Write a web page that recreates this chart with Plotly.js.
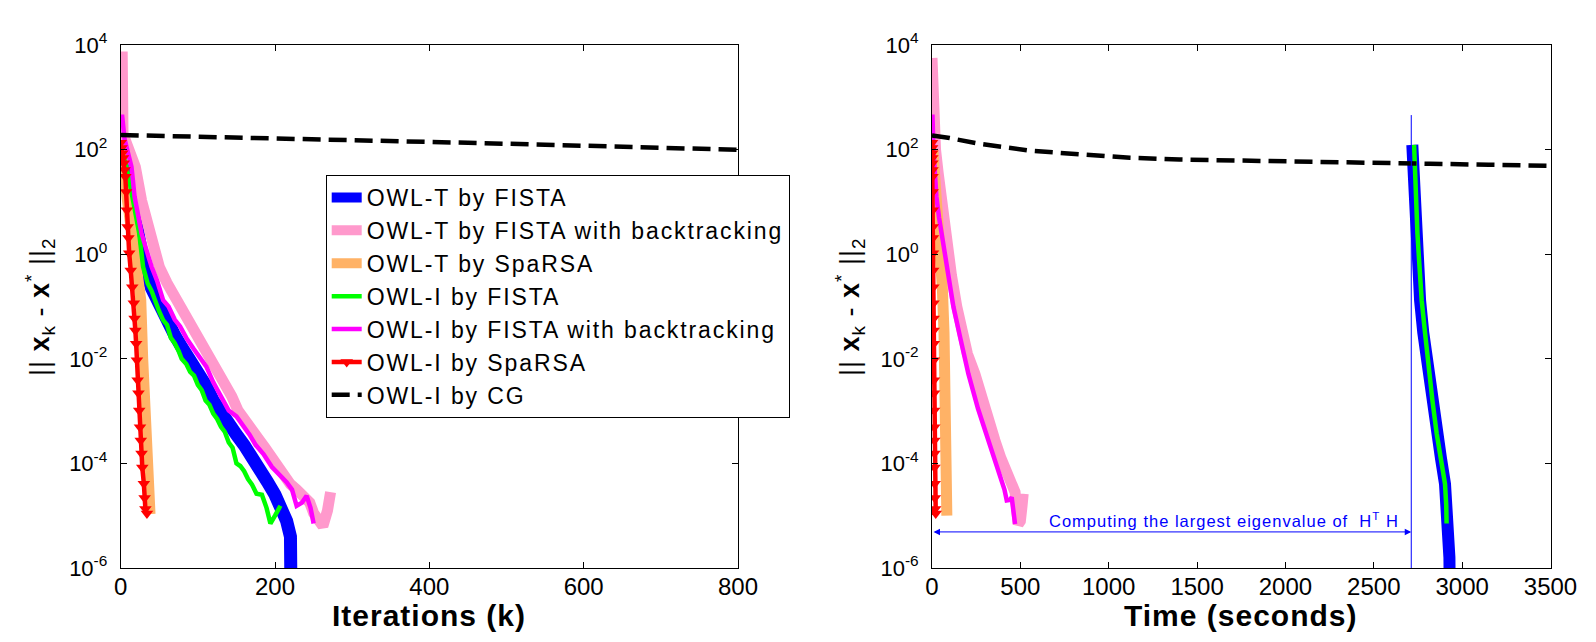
<!DOCTYPE html>
<html><head><meta charset="utf-8">
<script src="https://cdn.plot.ly/plotly-3.0.1.min.js"></script>
<style>
html,body{margin:0;padding:0;background:#fff;} #chart{width:1596px;height:642px;}
.legendtext{letter-spacing:1.9px;}
.annotation-text{letter-spacing:1px;}
</style>
</head><body><div id="chart"></div>
<script>
// ---------- Left panel: error vs iterations (values stored as log10) ----------
const tFistaIter = [0,5,10,15,20,25,30,40,50,60,70,80,90,100,110,120,128,140,150,160,170,178,190,200,210,215,220,221];
const tFistaIterLog = [2.0,1.75,1.4,1.0,0.6,0.2,-0.2,-0.65,-1.0,-1.3,-1.55,-1.8,-2.0,-2.25,-2.5,-2.8,-3.0,-3.25,-3.45,-3.65,-3.85,-4.07,-4.35,-4.6,-4.9,-5.1,-5.4,-7];

const tFistaBtIter = [0,2,3,10,19,27,38,50,60,73,84,95,106,118,127,135,144,152,161,170,178,187,196,204,212,220,228,235,240,245,250,255,262,268,272];
const tFistaBtIterLog = [3.77,3.77,2.3,2.0,1.67,1.03,0.4,-0.24,-0.55,-0.88,-1.2,-1.45,-1.72,-2.0,-2.25,-2.5,-2.72,-2.99,-3.15,-3.35,-3.52,-3.7,-3.9,-4.07,-4.25,-4.4,-4.5,-4.6,-4.7,-4.75,-4.95,-5.1,-5.2,-4.9,-4.55];

const tSparsaIter = [0,5,10,15,20,24,26,28.5,31,34,36,38];
const tSparsaIterLog = [2.0,1.5,1.0,0.5,0.0,-0.5,-0.88,-2.0,-3.0,-4.0,-4.5,-4.97];

const iFistaIter = [0,5,10,16,20,24,29,35,40,44,50,55,60,65,70,75,79,85,90,95,100,105,110,115,120,125,130,135,140,145,150,155,160,165,170,176,183,189,194,200,204,207];
const iFistaIterLog = [2.0,1.8,1.5,1.03,0.75,0.4,-0.24,-0.56,-0.7,-0.88,-1.1,-1.26,-1.35,-1.6,-1.7,-1.85,-2.0,-2.1,-2.25,-2.32,-2.5,-2.6,-2.8,-2.88,-3.05,-3.15,-3.3,-3.4,-3.6,-3.7,-4.0,-4.05,-4.15,-4.3,-4.4,-4.58,-4.6,-4.85,-5.15,-5.0,-4.9,-4.81];

const iFistaBtIter = [0,2,5,10,14,18,22,27,33,40,47,55,62,70,77,85,94,103,111,120,130,140,150,160,167,175,185,196,205,215,222,228,235,241,246,250];
const iFistaBtIterLog = [2.63,2.63,2.2,1.9,1.67,1.1,0.8,0.4,0.1,-0.24,-0.5,-0.88,-1.0,-1.25,-1.38,-1.6,-1.8,-2.0,-2.15,-2.45,-2.7,-2.99,-3.1,-3.3,-3.45,-3.65,-3.82,-4.07,-4.2,-4.36,-4.5,-4.81,-4.75,-4.62,-4.85,-5.15];

const iSparsaIter = [0,1,2,3,4,5,6,7,8,9,10,11,13,15,17,18,19,20,21,22,23,24,25,26,27,28,30,31,32,34];
const iSparsaLog = [2.13,2.03,1.93,1.84,1.74,1.61,1.48,1.19,0.84,0.52,0.31,0.02,-0.31,-0.63,-0.94,-1.23,-1.46,-1.71,-2.03,-2.41,-2.66,-2.99,-3.31,-3.56,-3.81,-4.08,-4.39,-4.66,-4.87,-4.96];

const cgIter = [0,100,200,300,358,450,550,650,800];
const cgIterVal = [190,178,165,153,146,135,124,113,99];

// ---------- Right panel: error vs time (seconds) ----------
const tFistaTime = [2718,2722,2730,2739,2750,2762,2780,2803,2830,2856,2880,2903,2912,2920,2928,2930];
const tFistaTimeLog = [2.09,1.7,1.0,0.4,-0.2,-0.88,-1.5,-2.16,-2.8,-3.43,-3.9,-4.39,-4.7,-5.2,-5.8,-6.5];

const tFistaBtTime = [0,3,8,20,35,55,83,110,140,170,200,243,280,320,356,390,420,445,470,480,488,500,510,516];
const tFistaBtTimeLog = [3.75,3.75,2.4,2.0,1.55,0.9,0.27,-0.4,-1.0,-1.5,-1.9,-2.29,-2.75,-3.15,-3.56,-3.9,-4.2,-4.4,-4.55,-4.9,-5.16,-5.1,-4.8,-4.58];

const tSparsaTime = [5,20,35,48,58,68,75,79,82,84];
const tSparsaTimeLog = [2.0,1.4,0.8,0.27,-0.6,-1.5,-2.29,-3.3,-4.3,-5.0];

const iFistaTime = [2728,2733,2740,2747,2758,2771,2790,2809,2832,2856,2880,2903,2910,2912];
const iFistaTimeLog = [2.09,1.6,1.0,0.4,-0.2,-0.88,-1.5,-2.16,-2.8,-3.43,-3.95,-4.39,-4.8,-5.15];

const iFistaBtTime = [0,3,8,15,25,40,60,90,121,160,206,260,319,370,410,423,440,451,460,470];
const iFistaBtTimeLog = [2.63,2.63,2.0,1.55,1.1,0.7,0.27,-0.4,-1.0,-1.6,-2.29,-2.95,-3.56,-4.1,-4.5,-4.71,-4.7,-4.65,-4.9,-5.16];

const iSparsaTime = [0,0.5,1,1.5,2,2.5,3,3.5,4,4.5,5,5.5,6.5,7.5,8.5,9,9.5,10,10.5,11,11.5,12,12.5,13,13.5,14,15,16,18,21];

const cgTime = [0,100,272,555,837,1120,1400,1686,2000,2252,2550,2818,3150,3500];
const cgTimeLog = [2.27,2.22,2.11,1.98,1.91,1.845,1.81,1.79,1.77,1.75,1.74,1.73,1.71,1.69];

// annotation values
const eigLineTime = 2712;
const eigLineY = [457, 1e-6];
const eigArrowLog = -5.31;
const eigLabelTime = 1653;
const eigLabelLog = -5.08;
const eigLabel = 'Computing the largest eigenvalue of  H<sup>T</sup> H';

const seriesNames = ['OWL-T by FISTA','OWL-T by FISTA with backtracking','OWL-T by SpaRSA','OWL-I by FISTA','OWL-I by FISTA with backtracking','OWL-I by SpaRSA','OWL-I by CG'];
const xTicksIter = [0,200,400,600,800];
const xTicksTime = [0,500,1000,1500,2000,2500,3000,3500];
const yTickVals = [1e-6,1e-4,1e-2,1,1e2,1e4];
const yTickText = ['10<sup>-6</sup>','10<sup>-4</sup>','10<sup>-2</sup>','10<sup>0</sup>','10<sup>2</sup>','10<sup>4</sup>'];

const p10 = a => a.map(v => Math.pow(10, v));

const BLUE='#0000FF', PINK='#FF99CC', ORANGE='#FFB266', GREEN='#00FF00', MAG='#FF00FF', RED='#FF0000', BLACK='#000000';
const THICK=11, THIN=4.5;

function mk(x, y, name, color, width, axis, legend, extra) {
  const t = {x:x, y:y, name:name, type:'scatter', mode:'lines',
    line:{color:color, width:width}, showlegend:legend,
    xaxis: axis==1?'x':'x2', yaxis: axis==1?'y':'y2', hoverinfo:'skip'};
  return Object.assign(t, extra||{});
}
const redExtra = {mode:'lines+markers', marker:{symbol:'triangle-down', size:11, color:RED}};
const cgLine = {color:BLACK, width:4.5, dash:'18px,8px'};

const data = [
  mk(tFistaIter, p10(tFistaIterLog), seriesNames[0], BLUE, 13, 1, true),
  mk(tFistaBtIter, p10(tFistaBtIterLog), seriesNames[1], PINK, THICK, 1, true),
  mk(tSparsaIter, p10(tSparsaIterLog), seriesNames[2], ORANGE, THICK, 1, true),
  mk(iFistaIter, p10(iFistaIterLog), seriesNames[3], GREEN, THIN, 1, true),
  mk(iFistaBtIter, p10(iFistaBtIterLog), seriesNames[4], MAG, THIN, 1, true),
  mk(iSparsaIter, p10(iSparsaLog), seriesNames[5], RED, THIN, 1, true, redExtra),
  Object.assign(mk(cgIter, cgIterVal, seriesNames[6], BLACK, 4.5, 1, true), {line:cgLine}),

  mk(tFistaTime, p10(tFistaTimeLog), seriesNames[0], BLUE, 12, 2, false),
  mk(tFistaBtTime, p10(tFistaBtTimeLog), seriesNames[1], PINK, THICK, 2, false),
  mk(tSparsaTime, p10(tSparsaTimeLog), seriesNames[2], ORANGE, THICK, 2, false),
  mk(iFistaTime, p10(iFistaTimeLog), seriesNames[3], GREEN, THIN, 2, false),
  mk(iFistaBtTime, p10(iFistaBtTimeLog), seriesNames[4], MAG, THIN, 2, false),
  mk(iSparsaTime, p10(iSparsaLog), seriesNames[5], RED, THIN, 2, false, redExtra),
  Object.assign(mk(cgTime, p10(cgTimeLog), seriesNames[6], BLACK, 4.5, 2, false), {line:cgLine}),
  mk([eigLineTime, eigLineTime], eigLineY, 'eig', BLUE, 1, 2, false)
];

const W=1596, H=642;
const FONT='Liberation Sans, Arial, sans-serif';
const axBase = {showline:true, linecolor:'#000', linewidth:1, mirror:'ticks', ticks:'inside', ticklen:6,
  tickcolor:'#000', showgrid:false, zeroline:false, tickfont:{family:FONT, size:24, color:'#000'}};
const yBase = Object.assign({}, axBase, {tickfont:{family:FONT, size:22, color:'#000'}});
const yDom = [1-568/H, 1-45/H];

const layout = {
  width:W, height:H, margin:{l:0,r:0,t:0,b:0}, paper_bgcolor:'#fff', plot_bgcolor:'#fff',
  showlegend:true,
  xaxis: Object.assign({}, axBase, {domain:[120.7/W, 738/W], range:[0,800], tickvals:xTicksIter, anchor:'y', ticklabelstandoff:-3}),
  yaxis: Object.assign({}, yBase, {domain:yDom, type:'log', range:[-6,4], tickvals:yTickVals, ticktext:yTickText, anchor:'x', ticklabelstandoff:8}),
  xaxis2: Object.assign({}, axBase, {domain:[932/W, 1550.5/W], range:[0,3500], tickvals:xTicksTime, anchor:'y2', ticklabelstandoff:-3}),
  yaxis2: Object.assign({}, yBase, {domain:yDom, type:'log', range:[-6,4], tickvals:yTickVals, ticktext:yTickText, anchor:'x2', ticklabelstandoff:8}),
  legend: {x:325.7/W, y:1-175/H, xanchor:'left', yanchor:'top', bgcolor:'#fff', bordercolor:'#000', borderwidth:1,
    font:{family:FONT, size:23, color:'#000'}, traceorder:'normal'},
  annotations: [
    {xref:'paper', yref:'paper', x:(120.7+738)/2/W, y:1-615/H, text:'<b>Iterations (k)</b>', showarrow:false,
      font:{family:FONT, size:30, color:'#000'}, xanchor:'center', yanchor:'middle'},
    {xref:'paper', yref:'paper', x:(932+1550.5)/2/W, y:1-615/H, text:'<b>Time (seconds)</b>', showarrow:false,
      font:{family:FONT, size:30, color:'#000'}, xanchor:'center', yanchor:'middle'},
    {xref:'paper', yref:'paper', x:40/W, y:1-307/H, textangle:-90, showarrow:false,
      text:'|| <b>x</b><sub>k</sub> - <b>x</b><sup>*</sup> ||<sub>2</sub>', font:{family:FONT, size:27, color:'#000'}, xanchor:'center', yanchor:'middle'},
    {xref:'paper', yref:'paper', x:850/W, y:1-307/H, textangle:-90, showarrow:false,
      text:'|| <b>x</b><sub>k</sub> - <b>x</b><sup>*</sup> ||<sub>2</sub>', font:{family:FONT, size:27, color:'#000'}, xanchor:'center', yanchor:'middle'},
    {xref:'x2', yref:'y2', x:eigLabelTime, y:eigLabelLog, text:eigLabel, showarrow:false,
      font:{family:FONT, size:16.5, color:BLUE}, xanchor:'center', yanchor:'middle'},
    {xref:'x2', yref:'y2', x:eigLineTime, y:eigArrowLog, axref:'x2', ayref:'y2', ax:0, ay:eigArrowLog, text:'',
      showarrow:true, arrowside:'end+start', arrowhead:2, startarrowhead:2, arrowsize:1.3, startarrowsize:1.3, arrowwidth:1, arrowcolor:BLUE, standoff:0, startstandoff:0}
  ]
};

Plotly.newPlot('chart', data, layout, {displayModeBar:false, staticPlot:true});
</script></body></html>
